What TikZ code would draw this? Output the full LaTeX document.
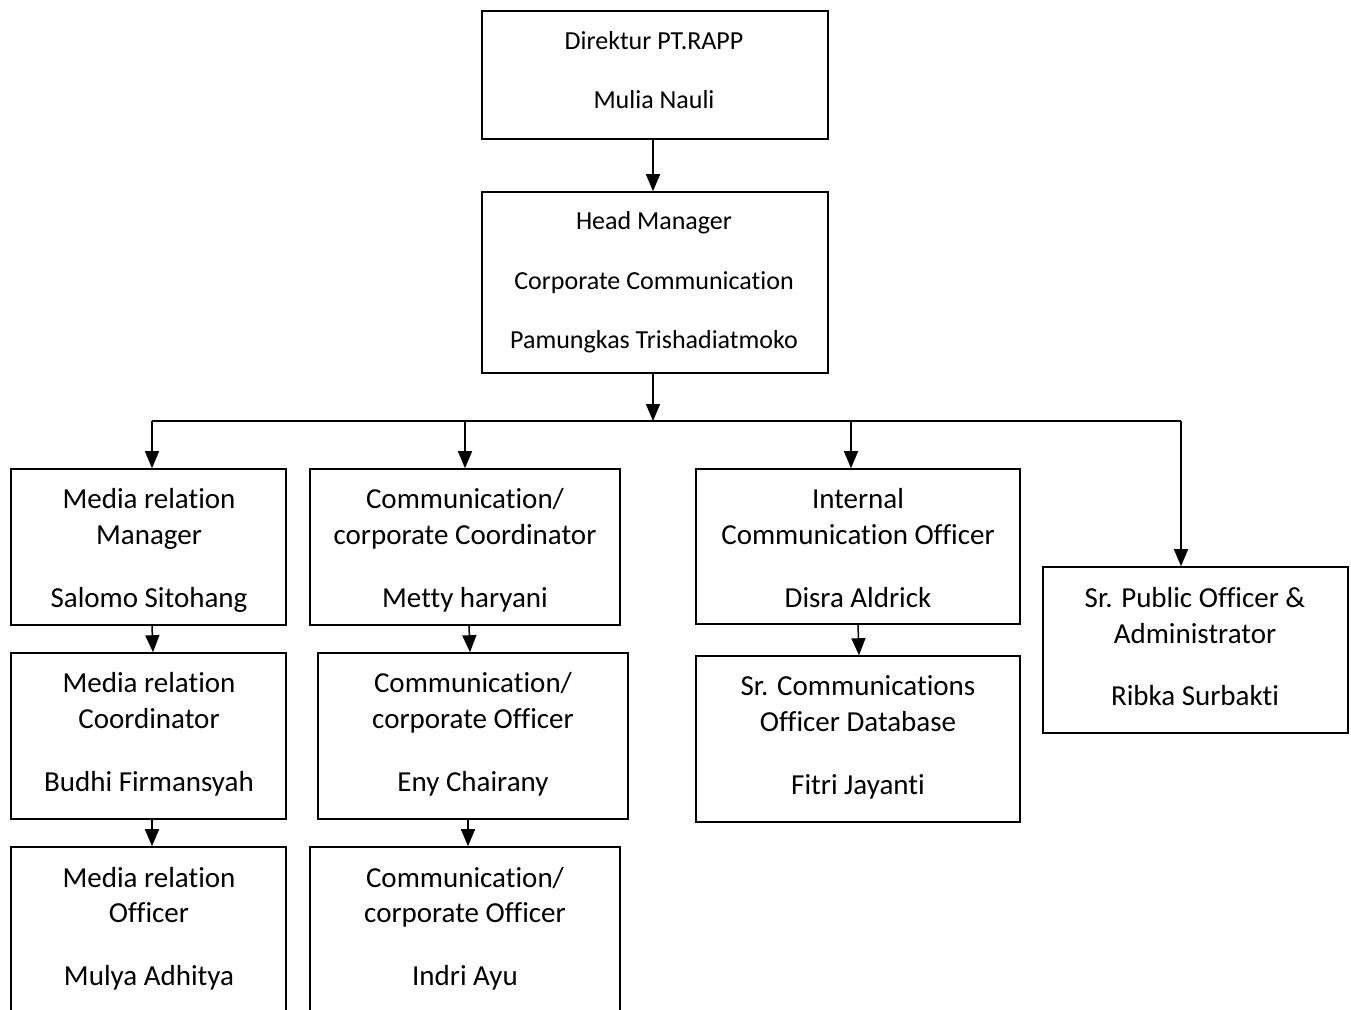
\documentclass[tikz,border=0pt]{standalone}
\usepackage{fontspec}
\setmainfont{Carlito}[Ligatures=NoCommon]
\usetikzlibrary{arrows.meta}
\tikzset{
  box/.style={draw, line width=1.6pt, inner sep=0pt, rectangle},
  arr/.style={line width=1.5pt, -{Triangle[length=17pt,width=14pt]}},
  bus/.style={line width=1.5pt},
  ts/.style={anchor=base, inner sep=0pt, font=\fontsize{26pt}{30pt}\selectfont},
  tb/.style={anchor=base, inner sep=0pt, font=\fontsize{29pt}{33pt}\selectfont},
}
\begin{document}
\begin{tikzpicture}[x=1pt,y=-1pt]
\useasboundingbox (0,0) rectangle (1351,1009);
\clip (0,0) rectangle (1351,1009);
% boxes
\node[box, minimum width=346pt, minimum height=128pt] (d) at (655,75) {};
\node[box, minimum width=346pt, minimum height=181pt] (h) at (655,282.5) {};
\node[box, minimum width=275pt, minimum height=156pt] (mrm) at (148.5,547) {};
\node[box, minimum width=310pt, minimum height=156pt] (ccc) at (465,547) {};
\node[box, minimum width=324pt, minimum height=155pt] (ico) at (858,546.5) {};
\node[box, minimum width=305pt, minimum height=166pt] (spo) at (1195.5,650) {};
\node[box, minimum width=275pt, minimum height=166pt] (mrc) at (148.5,736) {};
\node[box, minimum width=310pt, minimum height=166pt] (cco) at (473,736) {};
\node[box, minimum width=324pt, minimum height=166pt] (sco) at (858,739) {};
\node[box, minimum width=275pt, minimum height=183pt] (mro) at (148.5,938.5) {};
\node[box, minimum width=310pt, minimum height=183pt] (cco2) at (465,938.5) {};
% texts
\node[ts] (d1) at (654,49) {Direktur PT.RAPP};
\node[ts] (d2) at (654,108) {Mulia Nauli};
\node[ts] (h1) at (654,229) {Head Manager};
\node[ts] (h2) at (654,289) {Corporate Communication};
\node[ts] (h3) at (654,348) {Pamungkas Trishadiatmoko};
\node[tb] (m1) at (149,508) {Media relation};
\node[tb] (m2) at (149,544) {Manager};
\node[tb] (m3) at (149,607) {Salomo Sitohang};
\node[tb] (c1) at (465,508) {Communication/};
\node[tb] (c2) at (465,544) {corporate Coordinator};
\node[tb] (c3) at (465,607) {Metty haryani};
\node[tb] (i1) at (858,508) {Internal};
\node[tb] (i2) at (858,544) {Communication Officer};
\node[tb] (i3) at (858,607) {Disra Aldrick};
\node[tb] (s1) at (1195,607) {Sr. Public Officer \&};
\node[tb] (s2) at (1195,643) {Administrator};
\node[tb] (s3) at (1195,705) {Ribka Surbakti};
\node[tb] (mc1) at (149,692) {Media relation};
\node[tb] (mc2) at (149,728) {Coordinator};
\node[tb] (mc3) at (149,791) {Budhi Firmansyah};
\node[tb] (co1) at (473,692) {Communication/};
\node[tb] (co2) at (473,728) {corporate Officer};
\node[tb] (co3) at (473,791) {Eny Chairany};
\node[tb] (sc1) at (858,695) {Sr. Communications};
\node[tb] (sc2) at (858,731) {Officer Database};
\node[tb] (sc3) at (858,794) {Fitri Jayanti};
\node[tb] (mo1) at (149,887) {Media relation};
\node[tb] (mo2) at (149,922) {Officer};
\node[tb] (mo3) at (149,985) {Mulya Adhitya};
\node[tb] (o1) at (465,887) {Communication/};
\node[tb] (o2) at (465,922) {corporate Officer};
\node[tb] (o3) at (465,985) {Indri Ayu};
% connectors
\coordinate (bus) at (653,421);
\coordinate (busL) at (152,421);
\coordinate (busR) at (1181,421);
\coordinate (busC) at (465,421);
\coordinate (busI) at (851,421);
\draw[arr] ([xshift=-2pt]d.south) -- ([xshift=-2pt]h.north);
\draw[arr] ([xshift=-2pt]h.south) -- (bus);
\draw[bus] (busL) -- (busR);
\draw[arr] (busL) -- (busL |- mrm.north);
\draw[arr] (busC) -- (ccc.north);
\draw[arr] (busI) -- (busI |- ico.north);
\draw[arr] (busR) -- (busR |- spo.north);
\draw[arr] ([xshift=3.5pt]mrm.south) -- ([xshift=4.5pt]mrc.north);
\draw[arr] ([xshift=4pt]ccc.south) -- ([xshift=-3pt]cco.north);
\draw[arr] (ico.south) -- ([xshift=1pt]sco.north);
\draw[arr] ([xshift=3.5pt]mrc.south) -- ([xshift=3.5pt]mro.north);
\draw[arr] ([xshift=-5pt]cco.south) -- ([xshift=3pt]cco2.north);
\end{tikzpicture}
\end{document}
